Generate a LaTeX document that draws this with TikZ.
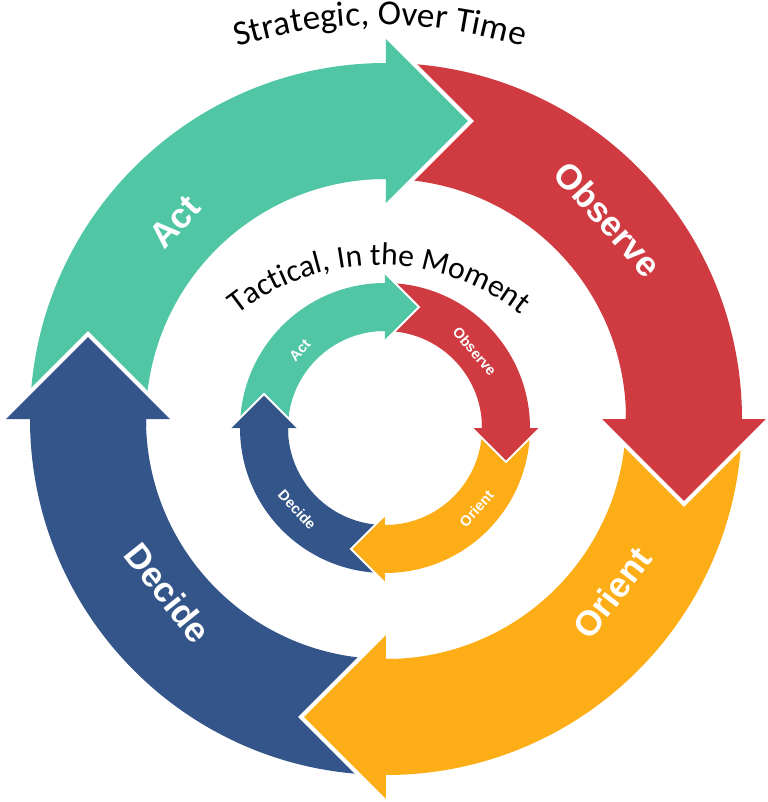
\documentclass[tikz,border=0pt]{standalone}
\usepackage{fontspec}
\setmainfont{Liberation Sans}
\newfontfamily\titlefont{Carlito}
\usetikzlibrary{calc,decorations.text}

\definecolor{actgreen}{HTML}{50C6A5}
\definecolor{obsred}{HTML}{D03B41}
\definecolor{oriorange}{HTML}{FDAD16}
\definecolor{decblue}{HTML}{345589}

\begin{document}
\begin{tikzpicture}[
    biglabel/.style={text=white, font=\bfseries\fontsize{20}{24}\selectfont},
    smalllabel/.style={text=white, font=\bfseries\fontsize{8.3}{10}\selectfont},
    headgap/.style={draw=white, line width=#1, line join=miter}]
  \useasboundingbox (-7.72,-7.66) rectangle (7.64,8.38);

  % outer ring: strategic loop
  \def\ri{4.8}\def\ro{7.12}\def\rm{5.96}\def\hw{1.7}
  \foreach \b/\col in {90/actgreen,0/obsred,-90/oriorange,180/decblue}
    \fill[\col] (\b+90:\ro) arc[start angle=\b+90, end angle=\b, radius=\ro]
      -- (\b:\ri) arc[start angle=\b, end angle=\b+90, radius=\ri] -- cycle;
  \foreach \b/\col in {90/actgreen,0/obsred,-90/oriorange,180/decblue} {
    \coordinate (tip) at ($(\b:\rm)+(\b-90:\hw)$);
    \fill[\col] (\b:{\rm+\hw}) -- (tip) -- (\b:{\rm-\hw}) -- cycle;
    \fill[\col] (\b+2:\ro) arc[start angle=\b+2, end angle=\b-1, radius=\ro]
      -- (\b-1:\ri) arc[start angle=\b-1, end angle=\b+2, radius=\ri] -- cycle;
    \draw[headgap=2.4pt] (\b:{\rm+\hw}) -- (tip) -- (\b:{\rm-\hw});
  }
  \node[biglabel, rotate=47] (actOut) at (137:5.78) {Act};
  \node[biglabel, rotate=-48] (obsOut) at (42:5.98) {Observe};
  \node[biglabel, rotate=52.4] (oriOut) at (-37.6:5.7) {Orient};
  \node[biglabel, rotate=-51.4] (decOut) at (-141.4:5.58) {Decide};

  % inner ring: tactical loop
  \begin{scope}[shift={(-0.02,-0.18)}]
    \def\ri{1.94}\def\ro{2.9}\def\rm{2.42}\def\hw{0.68}
    \foreach \b/\col in {90/actgreen,0/obsred,-90/oriorange,180/decblue}
      \fill[\col] (\b+90:\ro) arc[start angle=\b+90, end angle=\b, radius=\ro]
        -- (\b:\ri) arc[start angle=\b, end angle=\b+90, radius=\ri] -- cycle;
    \foreach \b/\col in {90/actgreen,0/obsred,-90/oriorange,180/decblue} {
      \coordinate (tip) at ($(\b:\rm)+(\b-90:\hw)$);
      \fill[\col] (\b:{\rm+\hw}) -- (tip) -- (\b:{\rm-\hw}) -- cycle;
      \fill[\col] (\b+3:\ro) arc[start angle=\b+3, end angle=\b-2, radius=\ro]
        -- (\b-2:\ri) arc[start angle=\b-2, end angle=\b+3, radius=\ri] -- cycle;
      \draw[headgap=1.2pt] (\b:{\rm+\hw}) -- (tip) -- (\b:{\rm-\hw});
    }
    \node[smalllabel, rotate=47.8] (actIn) at (137.8:2.3) {Act};
    \node[smalllabel, rotate=-49.5] (obsIn) at (40.5:2.36) {Observe};
    \node[smalllabel, rotate=48.6] (oriIn) at (-41.4:2.44) {Orient};
    \node[smalllabel, rotate=-47] (decIn) at (223:2.4) {Decide};
  \end{scope}

  % curved titles
  \path[decorate, decoration={text along path, text align=center,
      text={|\titlefont\fontsize{20}{24}\selectfont|Strategic{,} Over Time}}]
    (-0.12,-1.8) ++(115:9.68) arc[start angle=115, end angle=65, radius=9.68];
  \path[decorate, decoration={text along path, text align=center,
      text={|\titlefont\fontsize{18}{22}\selectfont|Tactical{,} In the Moment}}]
    (-0.14,-1.46) ++(145:4.54) arc[start angle=145, end angle=35, radius=4.54];
\end{tikzpicture}
\end{document}
